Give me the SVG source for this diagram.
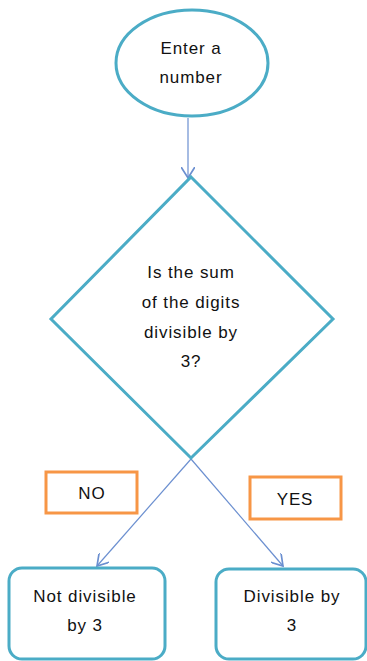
<svg xmlns="http://www.w3.org/2000/svg" width="367" height="661" viewBox="0 0 367 661">
<style>
.shape{fill:#fff;stroke:#4bacc6;stroke-width:3}
.lbl{fill:#fff;stroke:#f79646;stroke-width:3}
.conn{stroke:#6b8fd0;stroke-width:1.2;fill:none}
text{font-family:"Liberation Sans",Arial,sans-serif;font-size:17px;letter-spacing:0.9px;fill:#111;text-anchor:middle}
</style>
<defs>
<marker id="arr" markerUnits="userSpaceOnUse" markerWidth="14" markerHeight="14" refX="8" refY="5" orient="auto" viewBox="0 0 10 10">
<path d="M0,0 L8,5 L0,10" fill="none" stroke="#6b8fd0" stroke-width="1.2"/>
</marker>
</defs>
<g id="connectors">
<line class="conn" x1="188" y1="118" x2="188" y2="178" marker-end="url(#arr)"/>
<line class="conn" x1="191" y1="459" x2="97" y2="566" marker-end="url(#arr)"/>
<line class="conn" x1="191" y1="459" x2="283" y2="566" marker-end="url(#arr)"/>
</g>
<g id="start">
<ellipse class="shape" cx="192" cy="63" rx="76" ry="53"/>
<text x="191" y="54">Enter a</text>
<text x="191" y="83">number</text>
</g>
<g id="decision">
<polygon class="shape" points="191,177 333,319 191,458 51,319"/>
<text x="191" y="278">Is the sum</text>
<text x="191" y="308">of the digits</text>
<text x="191" y="338">divisible by</text>
<text x="191" y="367">3?</text>
</g>
<g id="no-label">
<rect class="lbl" x="46" y="472" width="91" height="41"/>
<text x="92" y="499">NO</text>
</g>
<g id="yes-label">
<rect class="lbl" x="250" y="477" width="91" height="42"/>
<text x="295" y="505">YES</text>
</g>
<g id="not-divisible">
<rect class="shape" x="9" y="568" width="156" height="91" rx="13"/>
<text x="85" y="602">Not divisible</text>
<text x="85" y="631">by 3</text>
</g>
<g id="divisible">
<rect class="shape" x="216" y="569" width="150" height="90" rx="13"/>
<text x="292" y="602">Divisible by</text>
<text x="292" y="631">3</text>
</g>
</svg>
